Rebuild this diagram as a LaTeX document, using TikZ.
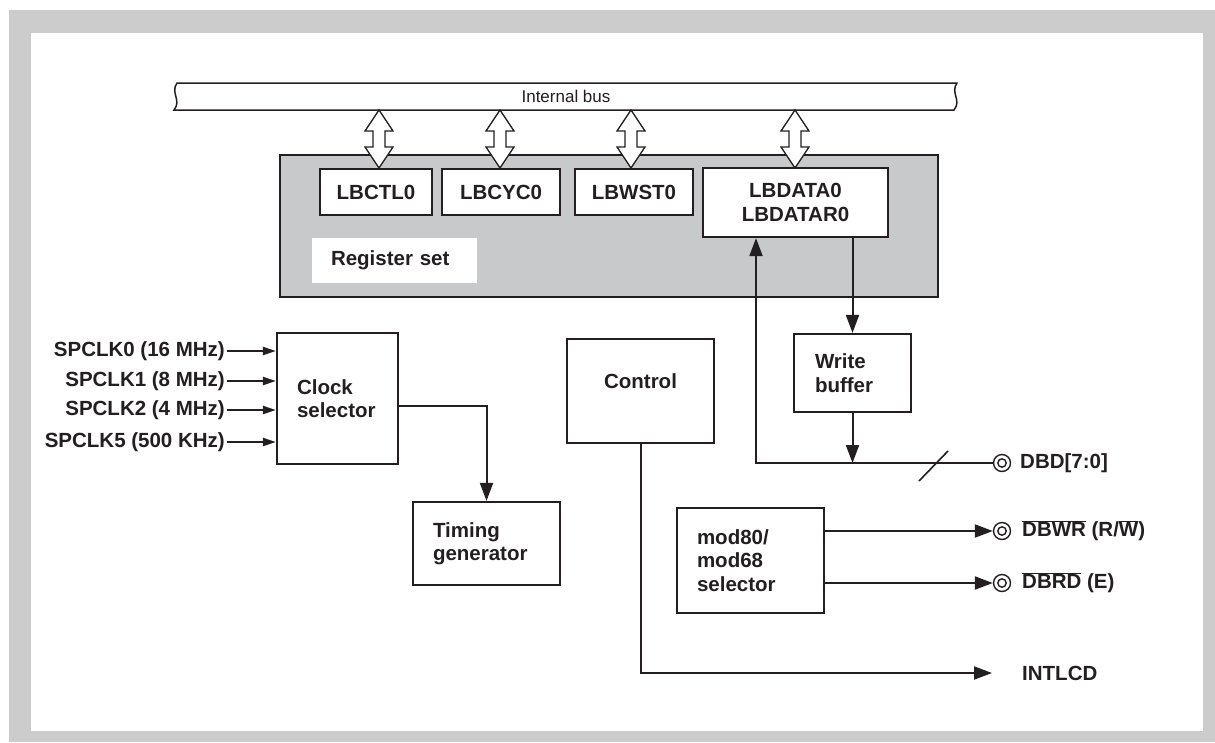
\documentclass[tikz,border=0pt]{standalone}
\usepackage{fontspec}
\setmainfont{Liberation Sans}
\usetikzlibrary{arrows.meta}
\definecolor{ink}{HTML}{231F20}
\definecolor{framegray}{HTML}{CCCCCC}
\definecolor{regfill}{HTML}{C8C9CB}
\newcommand\ovl[1]{$\overline{\mbox{#1}}$}
\begin{document}
\begin{tikzpicture}[x=1pt,y=-1pt,
  every node/.style={font=\fontsize{20.5}{23.5}\selectfont\bfseries, text=ink, inner sep=2pt},
  box/.style={draw=ink, line width=2.2pt, fill=white, inner sep=0pt, align=center},
  lbox/.style={draw=ink, line width=2.2pt, fill=white, inner xsep=20pt, inner ysep=0pt, align=left},
  arr/.style={draw=ink, line width=2pt, -{Triangle[length=18pt,width=13pt]}},
  sarr/.style={draw=ink, line width=2pt, -{Triangle[length=13pt,width=8pt]}},
  pinc/.style={circle, draw=ink, line width=1.4pt, minimum size=17pt, inner sep=0pt, fill=white,
    path picture={\draw[ink,line width=1.4pt] (path picture bounding box.center) circle (4.2pt);}},
  dblarrow/.pic={\draw[ink, line width=1.3pt, fill=white, line join=miter]
    (0,0) -- (14,21) -- (6,21) -- (6,37) -- (14,37) -- (0,58) -- (-14,37) -- (-6,37) -- (-6,21) -- (-14,21) -- cycle;}
]
\useasboundingbox (0,0) rectangle (1215,742);
% frame
\fill[white] (0,0) rectangle (1215,742);
\fill[framegray] (9,10) rectangle (1215,742);
\fill[white] (31,33) rectangle (1203,731);

% internal bus
\draw[ink, line width=1.5pt, fill=white] (177,83) -- (957,83) .. controls (950,93) and (962,100) .. (954,110)
  -- (174,110) .. controls (182,100) and (170,93) .. (177,83) -- cycle;
\node[font=\fontsize{17}{20}\selectfont] (bus) at (566,96.5) {Internal bus};

% register set
\node[box, fill=regfill, minimum width=658pt, minimum height=142pt] (regset) at (609,226) {};
\node[fill=white, inner xsep=19pt, inner ysep=0pt, text width=127pt, minimum height=45pt, align=left] (reglabel) at (394.5,260.5) {Register set};
\node[box, minimum width=112pt, minimum height=46pt] (r1) at (376,192) {LBCTL0};
\node[box, minimum width=118pt, minimum height=46pt] (r2) at (501,192) {LBCYC0};
\node[box, minimum width=118pt, minimum height=46pt] (r3) at (634,192) {LBWST0};
\node[box, minimum width=185pt, minimum height=69pt] (data) at (795.5,202.5) {LBDATA0\\LBDATAR0};

% double arrows
\pic at (379,110) {dblarrow};
\pic at (500,110) {dblarrow};
\pic at (631,110) {dblarrow};
\pic at (795,110) {dblarrow};

% clock selector
\node[lbox, text width=81pt, minimum height=131pt] (clk) at (337.5,398.5) {Clock\\selector};
\node[anchor=east] (s0) at (227,351) {SPCLK0 (16 MHz)};
\node[anchor=east] (s1) at (227,381) {SPCLK1 (8 MHz)};
\node[anchor=east] (s2) at (227,410) {SPCLK2 (4 MHz)};
\node[anchor=east] (s5) at (227,442) {SPCLK5 (500 KHz)};
\draw[sarr] (s0.east) -- (s0.east -| clk.west);
\draw[sarr] (s1.east) -- (s1.east -| clk.west);
\draw[sarr] (s2.east) -- (s2.east -| clk.west);
\draw[sarr] (s5.east) -- (s5.east -| clk.west);

% timing generator
\node[lbox, text width=107pt, minimum height=83pt] (tim) at (486.5,543.5) {Timing\\generator};
\coordinate (clkout) at (398,406);
\draw[arr] (clkout -| clk.east) -| (tim.north);

% control
\node[box, minimum width=147pt, minimum height=104pt] (ctrl) at (640.5,391) {Control\\[-4pt]};
\coordinate (intend) at (992,673);
\draw[arr] (ctrl.south) |- (intend);
\node[anchor=west] (intlcd) at (1020,673) {INTLCD};

% write buffer
\node[lbox, inner xsep=21pt, text width=75pt, minimum height=78pt] (wb) at (852.5,373) {Write\\buffer};
\draw[arr] (wb.north |- data.south) -- (wb.north);

% DBD bus
\node[pinc] (p1) at (1002,463) {};
\node[anchor=west] (l1) at (1018,463) {DBD[7:0]};
\coordinate (c1) at (756,463);
\draw[arr] (p1.west) -- (c1) -- (c1 |- data.south);
\draw[arr] (wb.south) -- (wb.south |- c1);
\draw[ink, line width=1.6pt] (919,481) -- (948,451);

% mod80/mod68 selector
\node[lbox, text width=107pt, minimum height=105pt] (mod) at (750.5,560.5) {mod80/\\mod68\\selector};
\node[pinc] (p2) at (1002,531) {};
\node[pinc] (p3) at (1002,583) {};
\draw[arr] (mod.east |- p2) -- (p2.west);
\draw[arr] (mod.east |- p3) -- (p3.west);
\node[anchor=west] (l2) at (1020,531) {\ovl{DBWR} (R/\ovl{W})};
\node[anchor=west] (l3) at (1020,583) {\ovl{DBRD} (E)};
\end{tikzpicture}
\end{document}
